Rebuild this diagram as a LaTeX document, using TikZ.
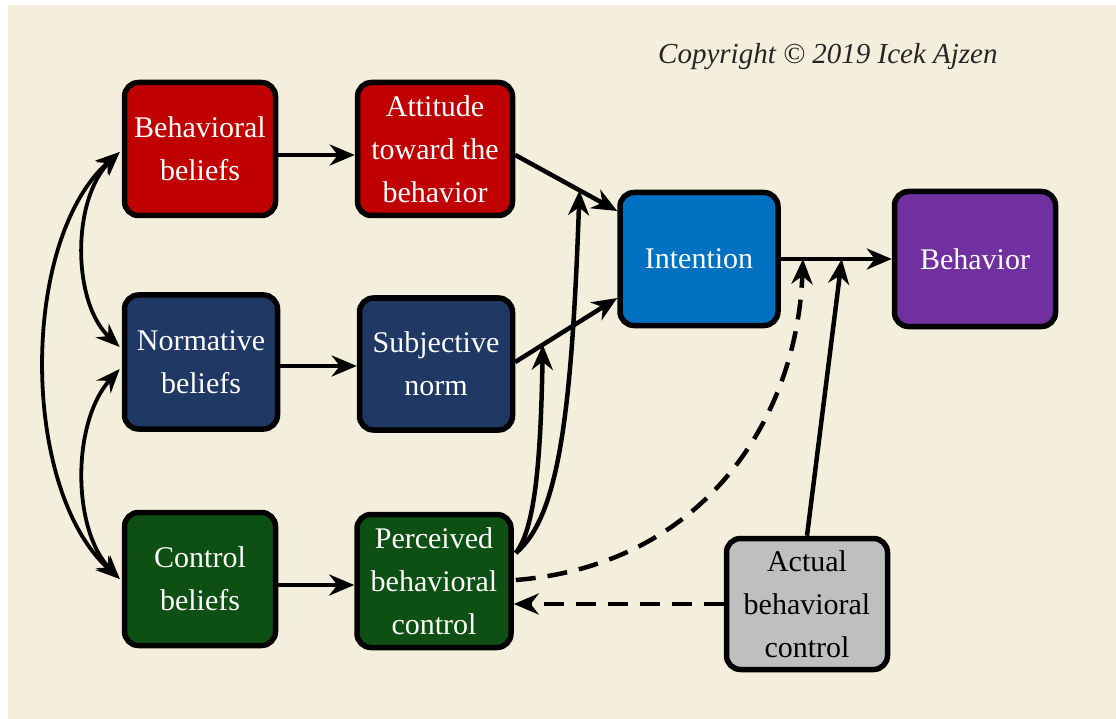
\documentclass[tikz,border=0pt]{standalone}
\usepackage{fontspec}
\setmainfont{Liberation Serif}
\usetikzlibrary{arrows.meta,calc}
\definecolor{bgcream}{HTML}{F4EEDC}
\definecolor{cred}{HTML}{C00000}
\definecolor{cnavy}{HTML}{203864}
\definecolor{cgreen}{HTML}{0E5014}
\definecolor{cblue}{HTML}{0070C0}
\definecolor{cpurple}{HTML}{7030A0}
\definecolor{cgray}{HTML}{BFBFBF}
\begin{document}
\begin{tikzpicture}[x=1pt,y=-1pt,
  box/.style={draw=black,line width=5.5pt,rounded corners=14pt,align=center,
    font=\fontsize{30}{43}\selectfont,text=white,inner sep=0pt},
  arr/.style={line width=4.5pt,-{Stealth[length=25pt,width=21pt,inset=8pt]}},
  biarr/.style={line width=3.8pt,{Stealth[length=24pt,width=19pt,inset=8pt]}-{Stealth[length=24pt,width=19pt,inset=8pt]}},
  darr/.style={arr,dash pattern=on 20pt off 12pt}]
\useasboundingbox (0,0) rectangle (1116,719);
\fill[white] (0,0) rectangle (1116,719);
\fill[bgcream] (8,5) rectangle (1116,719);

\node[anchor=base west,font=\itshape\fontsize{29}{34}\selectfont,text=black!85,inner sep=0pt] (copy) at (658,64) {Copyright © 2019 Icek Ajzen};

\node[box,fill=cred,minimum width=151pt,minimum height=133pt] (BB) at (200,149) {Behavioral\\beliefs};
\node[box,fill=cred,minimum width=155pt,minimum height=133pt] (Att) at (435,149) {Attitude\\toward the\\behavior};
\node[box,fill=cnavy,minimum width=153pt,minimum height=134pt] (NB) at (201,362) {Normative\\beliefs};
\node[box,fill=cnavy,minimum width=153pt,minimum height=132pt] (SN) at (436,364) {Subjective\\norm};
\node[box,fill=cgreen,minimum width=151pt,minimum height=133pt] (CB) at (200,579) {Control\\beliefs};
\node[box,fill=cgreen,minimum width=154pt,minimum height=133pt] (PBC) at (434,581) {Perceived\\behavioral\\control};
\node[box,fill=cblue,minimum width=158pt,minimum height=133pt] (Int) at (699,259) {Intention};
\node[box,fill=cpurple,minimum width=161pt,minimum height=135pt] (Beh) at (975,259) {Behavior};
\node[box,fill=cgray,text=black,minimum width=161pt,minimum height=131pt] (Act) at (807,604) {Actual\\behavioral\\control};

% straight links
\draw[arr] ($(BB.east)+(0,6)$) -- ($(Att.west)+(0,6)$);
\draw[arr] ($(NB.east)+(0,4)$) -- ($(SN.west)+(0,2)$);
\draw[arr] ($(CB.east)+(0,6)$) -- ($(PBC.west)+(0,4)$);

\coordinate (a1s) at ($(Att.east)+(0,6)$);
\coordinate (a1e) at ($(Int.west)+(0,-48)$);
\draw[arr] (a1s) -- (a1e);
\coordinate (m1) at ($(a1s)!0.63!(a1e)$);

\coordinate (a2s) at ($(SN.east)+(0,-2)$);
\coordinate (a2e) at ($(Int.west)+(0,39)$);
\draw[arr] (a2s) -- (a2e);
\coordinate (m2) at ($(a2s)!0.27!(a2e)$);

\draw[arr] (Int.east) -- (Beh.west);
\coordinate (m3) at ($(Int.east)!0.2!(Beh.west)$);
\coordinate (m4) at ($(Int.east)!0.55!(Beh.west)$);

% moderating links from PBC
\coordinate (p1) at ($(PBC.east)+(2,-28)$);
\draw[arr] (p1) .. controls ($(p1)+(42,-35)$) and ($(m1)+(-8,230)$) .. (m1);
\draw[arr] (p1) .. controls ($(p1)+(20,-25)$) and ($(m2)+(-2,110)$) .. (m2);
\draw[darr] ($(PBC.east)+(2,-1)$) .. controls ($(PBC.east)+(190,-16)$) and ($(m3)+(-6,160)$) .. (m3);
\draw[arr] (Act.north) -- (m4);
\draw[darr] (Act.west) -- (PBC.east |- Act.west);

% correlations among beliefs
\draw[biarr] ($(BB.west)+(-2,3)$) .. controls ($(BB.west)+(-102,90)$) and ($(CB.west)+(-102,-90)$) .. ($(CB.west)+(-2,0)$);
\draw[biarr] ($(BB.west)+(-2,3)$) .. controls ($(BB.west)+(-50,50)$) and ($(NB.west)+(-50,-60)$) .. ($(NB.west)+(-2,-15)$);
\draw[biarr] ($(NB.west)+(-2,7)$) .. controls ($(NB.west)+(-50,60)$) and ($(CB.west)+(-50,-50)$) .. ($(CB.west)+(-2,0)$);
\end{tikzpicture}
\end{document}
